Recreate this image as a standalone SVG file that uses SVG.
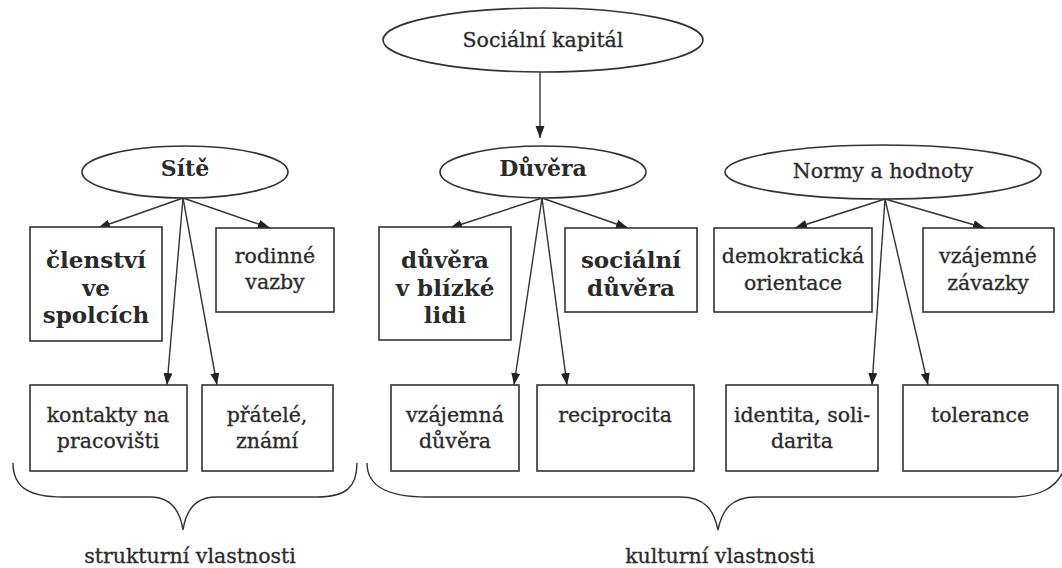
<svg xmlns="http://www.w3.org/2000/svg" width="1062" height="568" viewBox="0 0 1062 568">
<style>
.sh{fill:#fff;stroke:#333;stroke-width:1.6}
.t{font-family:"DejaVu Serif","Liberation Serif",serif;font-size:20.5px;fill:#2a2a2a;stroke:#2a2a2a;stroke-width:0.3;text-anchor:middle}
.b{font-family:"DejaVu Serif","Liberation Serif",serif;font-size:23px;font-weight:bold;fill:#2a2a2a;text-anchor:middle}
.e{font-size:22px}
.c{fill:none;stroke:#333;stroke-width:1.4}
.br{fill:none;stroke:#333;stroke-width:1.4}
</style>
<defs>
<marker id="ah" markerUnits="userSpaceOnUse" markerWidth="14" markerHeight="10" refX="12" refY="4.5" orient="auto">
<path d="M0,0 L12,4.5 L0,9 Z" fill="#222"/>
</marker>
</defs>
<rect width="1062" height="568" fill="#fff"/>
<g id="connectors">
<line class="c" x1="540" y1="72" x2="540" y2="138" marker-end="url(#ah)"/>
<line class="c" x1="183" y1="198" x2="98" y2="228" marker-end="url(#ah)"/>
<line class="c" x1="183" y1="198" x2="270" y2="228" marker-end="url(#ah)"/>
<line class="c" x1="183" y1="198" x2="167" y2="385" marker-end="url(#ah)"/>
<line class="c" x1="183" y1="198" x2="217" y2="385" marker-end="url(#ah)"/>
<line class="c" x1="542" y1="198" x2="450" y2="228" marker-end="url(#ah)"/>
<line class="c" x1="542" y1="198" x2="628" y2="228" marker-end="url(#ah)"/>
<line class="c" x1="542" y1="198" x2="514" y2="385" marker-end="url(#ah)"/>
<line class="c" x1="542" y1="198" x2="567" y2="385" marker-end="url(#ah)"/>
<line class="c" x1="885" y1="199" x2="795" y2="228" marker-end="url(#ah)"/>
<line class="c" x1="885" y1="199" x2="985" y2="228" marker-end="url(#ah)"/>
<line class="c" x1="885" y1="199" x2="872" y2="385" marker-end="url(#ah)"/>
<line class="c" x1="885" y1="199" x2="928" y2="385" marker-end="url(#ah)"/>
</g>
<g id="n-socialni-kapital"><ellipse class="sh" cx="543" cy="40" rx="160" ry="32"/><text class="t" x="543" y="47">Sociální kapitál</text></g>
<g id="n-site"><ellipse class="sh" cx="185" cy="172" rx="103" ry="26"/><text class="b e" x="185" y="176">Sítě</text></g>
<g id="n-duvera"><ellipse class="sh" cx="543" cy="172" rx="103" ry="26"/><text class="b e" x="543" y="176">Důvěra</text></g>
<g id="n-normy"><ellipse class="sh" cx="883" cy="172" rx="158" ry="27"/><text class="t" x="883" y="178">Normy a hodnoty</text></g>
<g id="n-clenstvi"><rect class="sh" x="30" y="227" width="132" height="114"/><text class="b" x="96" y="268">členství</text><text class="b" x="96" y="296">ve</text><text class="b" x="96" y="323">spolcích</text></g>
<g id="n-rodinne"><rect class="sh" x="216" y="228" width="118" height="84"/><text class="t" x="275" y="263">rodinné</text><text class="t" x="275" y="289">vazby</text></g>
<g id="n-duvera-blizke"><rect class="sh" x="379" y="227" width="132" height="113"/><text class="b" x="445" y="268">důvěra</text><text class="b" x="445" y="296">v blízké</text><text class="b" x="445" y="323">lidi</text></g>
<g id="n-socialni-duvera"><rect class="sh" x="565" y="228" width="132" height="84"/><text class="b" x="631" y="268">sociální</text><text class="b" x="631" y="296">důvěra</text></g>
<g id="n-demokraticka"><rect class="sh" x="714" y="228" width="158" height="84"/><text class="t" x="793" y="263">demokratická</text><text class="t" x="793" y="290">orientace</text></g>
<g id="n-zavazky"><rect class="sh" x="923" y="228" width="131" height="84"/><text class="t" x="988" y="263">vzájemné</text><text class="t" x="988" y="290">závazky</text></g>
<g id="n-kontakty"><rect class="sh" x="30" y="385" width="157" height="86"/><text class="t" x="108" y="422">kontakty na</text><text class="t" x="108" y="448">pracovišti</text></g>
<g id="n-pratele"><rect class="sh" x="202" y="385" width="131" height="86"/><text class="t" x="267" y="422">přátelé,</text><text class="t" x="267" y="448">známí</text></g>
<g id="n-vzajemna"><rect class="sh" x="391" y="385" width="128" height="86"/><text class="t" x="455" y="422">vzájemná</text><text class="t" x="455" y="448">důvěra</text></g>
<g id="n-reciprocita"><rect class="sh" x="537" y="385" width="157" height="86"/><text class="t" x="615" y="422">reciprocita</text></g>
<g id="n-identita"><rect class="sh" x="726" y="385" width="152" height="86"/><text class="t" x="802" y="422">identita, soli-</text><text class="t" x="802" y="448">darita</text></g>
<g id="n-tolerance"><rect class="sh" x="903" y="385" width="155" height="86"/><text class="t" x="980" y="422">tolerance</text></g>
<g id="braces">
<path class="br" d="M13,463 C13,488 30,497 63,497 L150,497 C170,497 180,510 183,530 C186,510 196,497 216,497 L317,497 C345,497 357,488 357,463"/>
<path class="br" d="M367,463 C367,488 390,497 427,497 L680,497 C705,497 714,510 718,530 C722,510 731,497 756,497 L1010,497 C1040,497 1056,488 1064,470"/>
<text class="t" x="190" y="563">strukturní vlastnosti</text>
<text class="t" x="720" y="563">kulturní vlastnosti</text>
</g>
</svg>
